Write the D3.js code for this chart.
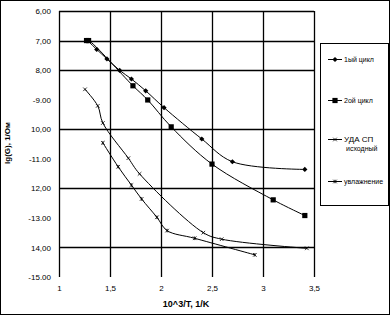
<!DOCTYPE html>
<html>
<head>
<meta charset="utf-8">
<script src="https://cdn.jsdelivr.net/npm/d3@7"></script>
<style>
body { margin: 0; background: #fff; }
</style>
</head>
<body>
<div id="chart"></div>
<script>
// series data, [10^3/T, lg(G)]
cycle1 = [[1.28, -7.00], [1.37, -7.30], [1.47, -7.62], [1.595, -8.01], [1.71, -8.30],
          [1.85, -8.70], [2.03, -9.27], [2.40, -10.33], [2.70, -11.10], [3.41, -11.36]];
cycle2 = [[1.27, -7.00], [1.29, -7.00], [1.725, -8.53], [1.87, -9.01], [2.10, -9.92],
          [2.50, -11.18], [3.10, -12.39], [3.41, -12.92]];
initial = [[1.255, -8.65], [1.38, -9.21], [1.43, -9.79], [1.68, -10.98], [1.79, -11.51],
           [2.415, -13.50], [2.595, -13.72], [3.43, -14.03]];
treated = [[1.43, -10.46], [1.58, -11.27], [1.71, -11.89], [1.81, -12.36], [1.96, -12.98],
           [2.06, -13.43], [2.33, -13.69], [2.92, -14.25]];

let names = [["1ый цикл"], ["2ой цикл"], ["УДА СП", "исходный"], ["увлажнение"]];

let xTicks = [1, 1.5, 2, 2.5, 3, 3.5];
let xTickLabels = ["1", "1,5", "2", "2,5", "3", "3,5"];
let yTicks = [-6, -7, -8, -9, -10, -11, -12, -13, -14, -15];
let yTickLabels = ["6,00", "7,00", "8,00", "-9.00", "10,00", "-11.00", "12,00", "-13.00", "14,00", "-15.00"];
let yGrid = [-6, -7, -8, -10, -12, -14];
let xGrid = [1.5, 2, 2.5, 3, 3.5];

const W = 390, H = 315;
const font = "'Liberation Sans', Arial, sans-serif";

svg = d3.select('#chart')
    .append('svg')
    .attr("width", W)
    .attr("height", H);

// outer frame
svg.append("rect")
    .attr("x", 0.5)
    .attr("y", 0.5)
    .attr("width", W - 1)
    .attr("height", H - 1)
    .style("fill", "#fff")
    .style("stroke", "#000");

x = d3.scaleLinear().domain([1, 3.5]).range([59, 314]);
y = d3.scaleLinear().domain([-15, -6]).range([277, 11]);

// grid
svg.append("g").selectAll("line")
    .data(yGrid)
    .join("line")
    .attr("x1", x(1)).attr("x2", x(3.5))
    .attr("y1", d => Math.round(y(d)) + 0.5).attr("y2", d => Math.round(y(d)) + 0.5)
    .style("stroke", "#000")
    .style("stroke-width", 1.3);

svg.append("g").selectAll("line")
    .data(xGrid.concat([1]))
    .join("line")
    .attr("x1", d => Math.round(x(d)) + 0.5).attr("x2", d => Math.round(x(d)) + 0.5)
    .attr("y1", y(-6)).attr("y2", y(-15))
    .style("stroke", "#000")
    .style("stroke-width", 1.3);

// axes (labels only)
yAxis = svg.append("g")
    .attr("transform", `translate(${x(1)},0)`)
    .call(d3.axisLeft(y).tickValues(yTicks).tickFormat((d, i) => yTickLabels[i]).tickSize(0).tickPadding(8));
yAxis.select(".domain").remove();
yAxis.selectAll("text").style("font-family", font).style("font-size", "8px").style("fill", "#000");

xAxis = svg.append("g")
    .attr("transform", `translate(0,${y(-15)})`)
    .call(d3.axisBottom(x).tickValues(xTicks).tickFormat((d, i) => xTickLabels[i]).tickSize(0).tickPadding(8));
xAxis.select(".domain").remove();
xAxis.selectAll("text").style("font-family", font).style("font-size", "8px").style("fill", "#000");

// axis titles
svg.append("text")
    .text("10^3/T, 1/K")
    .attr("x", 186)
    .attr("y", 307)
    .attr("text-anchor", "middle")
    .style("font-family", font)
    .style("font-size", "9px")
    .style("font-weight", "bold");

svg.append("text")
    .text("lg(G), 1/Ом")
    .attr("transform", "translate(10,143) rotate(-90)")
    .attr("text-anchor", "middle")
    .style("font-family", font)
    .style("font-size", "8px")
    .style("font-weight", "bold");

// markers
function marker(g, type, s) {
    if (type == "diamond") {
        g.append("path").attr("d", `M0,${-s}L${s},0L0,${s}L${-s},0Z`).style("fill", "#000");
    } else if (type == "square") {
        g.append("rect").attr("x", -s).attr("y", -s).attr("width", 2 * s).attr("height", 2 * s).style("fill", "#000");
    } else if (type == "x") {
        g.append("path").attr("d", `M${-s},${-s}L${s},${s}M${-s},${s}L${s},${-s}`)
            .style("stroke", "#000").style("stroke-width", 0.8);
    } else {
        g.append("path").attr("d", `M${-s},${-s}L${s},${s}M${-s},${s}L${s},${-s}M0,${-s}L0,${s}`)
            .style("stroke", "#000").style("stroke-width", 0.8);
    }
}

series = [
    {data: cycle1, m: "diamond", s: 2.6},
    {data: cycle2, m: "square", s: 2.6},
    {data: initial, m: "x", s: 1.8},
    {data: treated, m: "star", s: 1.8}
];

line = d3.line()
    .x(d => x(d[0]))
    .y(d => y(d[1]))
    .curve(d3.curveCatmullRom.alpha(0.5));

series.forEach(sr => {
    svg.append("path")
        .attr("d", line(sr.data))
        .style("fill", "none")
        .style("stroke", "#000")
        .style("stroke-width", 1);
    sr.data.forEach(d => {
        let g = svg.append("g").attr("transform", `translate(${x(d[0])},${y(d[1])})`);
        marker(g, sr.m, sr.s);
    });
});

// legend
svg.append("rect")
    .attr("x", 320.5)
    .attr("y", 43.5)
    .attr("width", 68)
    .attr("height", 162)
    .style("fill", "#fff")
    .style("stroke", "#000");

let legY = [59, 100, 139, 181];
series.forEach((sr, i) => {
    svg.append("line")
        .attr("x1", 328).attr("x2", 342)
        .attr("y1", legY[i] + 0.5).attr("y2", legY[i] + 0.5)
        .style("stroke", "#000");
    let g = svg.append("g").attr("transform", `translate(335,${legY[i] + 0.5})`);
    marker(g, sr.m, sr.s);
    names[i].forEach((t, j) => {
        svg.append("text")
            .text(t)
            .attr("x", j == 0 ? 344 : 346)
            .attr("y", legY[i] + 2.5 + j * 9)
            .style("font-family", font)
            .style("font-size", j == 0 && i == 2 ? "8px" : "7px");
    });
});
</script>
</body>
</html>
